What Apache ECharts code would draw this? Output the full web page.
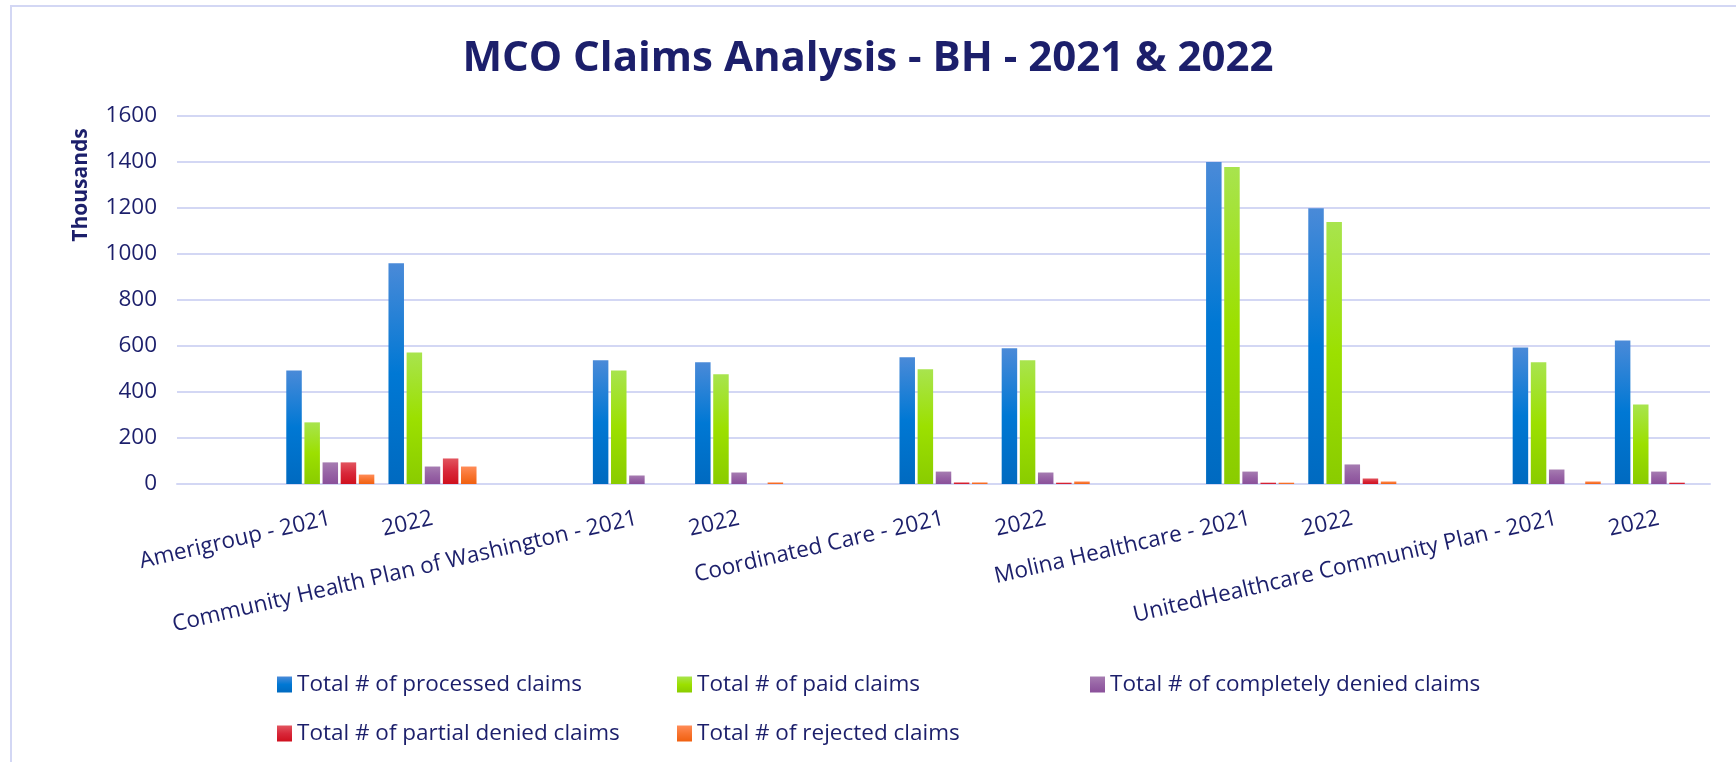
<!DOCTYPE html>
<html>
<head>
<meta charset="utf-8">
<script src="https://cdn.jsdelivr.net/npm/echarts@6/dist/echarts.min.js"></script>
<style>
  html, body { margin: 0; padding: 0; background: #fff; overflow: hidden; }
  #frame { position: absolute; left: 10px; top: 5px; width: 2000px; height: 2000px;
           border-left: 2px solid #d3d7f4; border-top: 2px solid #d3d7f4; }
  #chart { position: absolute; left: 0; top: 0; width: 1736px; height: 762px; }
</style>
</head>
<body>
<div id="frame"></div>
<div id="chart"></div>
<script>
// categories (blank slot before each plan, like the source sheet)
const categories = ['', 'Amerigroup - 2021', '2022', '', 'Community Health Plan of Washington - 2021', '2022',
  '', 'Coordinated Care - 2021', '2022', '', 'Molina Healthcare - 2021', '2022',
  '', 'UnitedHealthcare Community Plan - 2021', '2022'];
const yTicks = [0, 200, 400, 600, 800, 1000, 1200, 1400, 1600];

// values in thousands
const processed = [null, 494, 960, null, 538, 529, null, 551, 590, null, 1400, 1199, null, 594, 624];
const paid = [null, 268, 572, null, 494, 477, null, 499, 538, null, 1378, 1139, null, 529, 346];
const completelyDenied = [null, 94, 76, null, 37, 50, null, 54, 50, null, 54, 85, null, 63, 54];
const partialDenied = [null, 94, 111, null, 0, 0, null, 7, 6, null, 6, 24, null, 0, 6];
const rejected = [null, 41, 76, null, 0, 7, null, 7, 11, null, 6, 11, null, 11, 0];

const seriesNames = ['Total # of processed claims', 'Total # of paid claims', 'Total # of completely denied claims',
  'Total # of partial denied claims', 'Total # of rejected claims'];

const navy = '#1c1f6b';

function grad(top, mid, bottom) {
  return new echarts.graphic.LinearGradient(0, 0, 0, 1, [
    { offset: 0, color: top }, { offset: 0.5, color: mid }, { offset: 1, color: bottom }
  ]);
}
const colors = [
  grad('#4a8ad8', '#0078d4', '#006ac0'),
  grad('#a8e44e', '#9ce000', '#8acc00'),
  grad('#a67cb1', '#9763a5', '#8a509a'),
  grad('#e2555f', '#d8283a', '#cf101e'),
  grad('#ff8c58', '#f87430', '#f06010')
];

const chart = echarts.init(document.getElementById('chart'));

const data = [processed, paid, completelyDenied, partialDenied, rejected];
const series = data.map((d, i) => ({
  name: seriesNames[i],
  type: 'bar',
  data: d,
  barWidth: 15.5,
  barGap: '17%',
  itemStyle: { color: colors[i] }
}));

// legend laid out in fixed columns
const legendPos = [[277, 673], [677, 673], [1090, 673], [277, 722], [677, 722]];
const legends = seriesNames.map((n, i) => ({
  data: [n],
  left: legendPos[i][0],
  top: legendPos[i][1],
  padding: 0,
  icon: 'rect',
  itemWidth: 15,
  itemHeight: 16,
  textStyle: { color: navy, fontSize: 22.5, fontFamily: 'Open Sans' },
  selectedMode: false
}));

const option = {
  animation: false,
  title: {
    text: 'MCO Claims Analysis - BH - 2021 & 2022',
    left: 'center',
    top: 33,
    textStyle: { color: navy, fontSize: 42, fontWeight: 'bold', fontFamily: 'Open Sans' }
  },
  legend: legends,
  grid: { left: 177, right: 26, top: 116, bottom: 278, containLabel: false },
  xAxis: {
    type: 'category',
    data: categories,
    axisLine: { lineStyle: { color: '#d3d7f4', width: 2 } },
    axisTick: { show: false },
    axisLabel: { interval: 0, rotate: 13, margin: 34, color: navy, fontSize: 22.5, fontFamily: 'Open Sans' }
  },
  yAxis: {
    type: 'value',
    min: yTicks[0],
    max: yTicks[yTicks.length - 1],
    interval: 200,
    axisLine: { show: false },
    axisTick: { show: false },
    axisLabel: { margin: 20, color: navy, fontSize: 22.5, fontFamily: 'Open Sans', formatter: v => String(v) },
    splitLine: { lineStyle: { color: '#d3d7f4', width: 2 } }
  },
  graphic: [{
    type: 'text',
    x: 81,
    y: 185,
    rotation: Math.PI / 2,
    style: {
      text: 'Thousands',
      fill: navy,
      font: 'bold 21px "Open Sans"',
      align: 'center',
      verticalAlign: 'middle'
    }
  }],
  series: series
};

chart.setOption(option);
</script>
</body>
</html>
